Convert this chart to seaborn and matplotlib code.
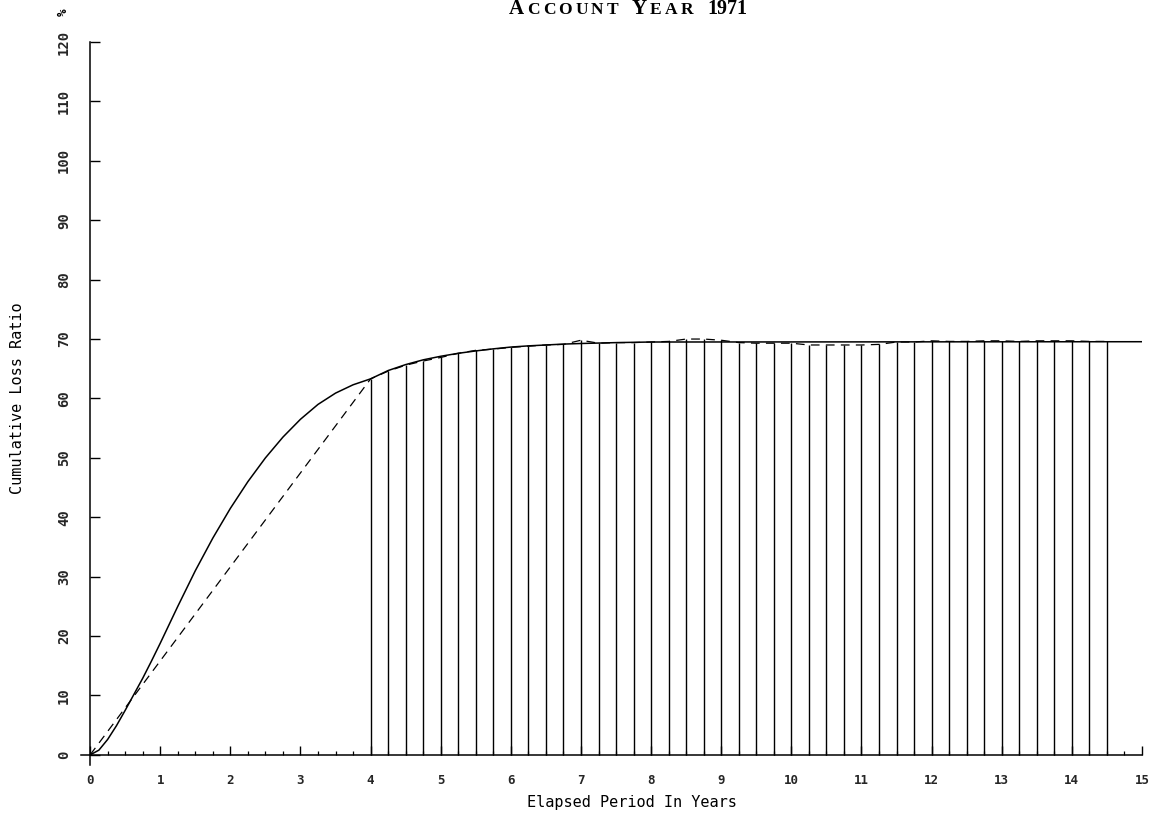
import numpy as np
import pandas as pd
import matplotlib
matplotlib.use("Agg")
import matplotlib.pyplot as plt
import seaborn as sns
from matplotlib.offsetbox import TextArea, HPacker, AnnotationBbox
from matplotlib.ticker import MultipleLocator

# Fitted development curve (cumulative loss ratio, %)
fit_years = [0.0, 0.125, 0.25, 0.375, 0.5, 0.625, 0.75, 0.875, 1.0, 1.25, 1.5, 1.75,
             2.0, 2.25, 2.5, 2.75, 3.0, 3.25, 3.5, 3.75, 4.0, 4.25, 4.5, 4.75,
             5.0, 5.25, 5.5, 5.75, 6.0, 6.25, 6.5, 6.75, 7.0, 7.5, 8.0, 15.0]
fit_ratio = [0.0, 0.8, 2.6, 4.9, 7.5, 10.2, 12.9, 15.8, 18.8, 25.0, 31.0, 36.5,
             41.5, 46.0, 50.0, 53.5, 56.5, 59.0, 60.9, 62.3, 63.3, 64.7, 65.7, 66.5,
             67.1, 67.6, 68.0, 68.35, 68.65, 68.85, 69.0, 69.15, 69.25, 69.4, 69.5, 69.55]

# Observed cumulative loss ratio by quarter
obs_years = [4.0, 4.25, 4.5, 4.75, 5.0, 5.25, 5.5, 5.75, 6.0, 6.25, 6.5, 6.75,
             7.0, 7.25, 7.5, 7.75, 8.0, 8.25, 8.5, 8.75, 9.0, 9.25, 9.5, 9.75,
             10.0, 10.25, 10.5, 10.75, 11.0, 11.25, 11.5, 11.75, 12.0, 12.25,
             12.5, 12.75, 13.0, 13.25, 13.5, 13.75, 14.0, 14.25, 14.5]
obs_ratio = [63.3, 64.6, 65.6, 66.3, 66.9, 67.6, 68.1, 68.3, 68.6, 68.8, 69.0, 69.1,
             69.8, 69.3, 69.4, 69.4, 69.5, 69.6, 70.0, 70.0, 69.8, 69.4, 69.3, 69.3,
             69.3, 69.0, 69.0, 69.0, 69.0, 69.1, 69.5, 69.5, 69.7, 69.6,
             69.6, 69.7, 69.7, 69.6, 69.7, 69.7, 69.7, 69.6, 69.6]

# Dashed path starts at the origin, then follows the observations
path_years = [0.0] + obs_years
path_ratio = [0.0] + obs_ratio

x_ticks = list(range(0, 16))
y_ticks = list(range(0, 121, 10))

sns.set_theme(style="white")
plt.rcParams["font.family"] = ["DejaVu Sans Mono", "DejaVu Sans"]

W, H = 1153, 816
fig = plt.figure(figsize=(W / 100, H / 100), dpi=100)
ax = fig.add_axes([81 / W, 1 - 765 / H, (1142 - 81) / W, (765 - 42) / H])
ax.set_facecolor("white")

fit_df = pd.DataFrame({"year": fit_years, "ratio": fit_ratio})
path_df = pd.DataFrame({"year": path_years, "ratio": path_ratio})

# stems for each quarterly observation
ax.vlines(obs_years, 0, obs_ratio, color="black", linewidth=1.0, zorder=2)

sns.lineplot(data=fit_df, x="year", y="ratio", ax=ax, color="black",
             linewidth=1.1, estimator=None, sort=False, zorder=3)
sns.lineplot(data=path_df, x="year", y="ratio", ax=ax, color="black",
             linewidth=0.9, estimator=None, sort=False, zorder=3,
             linestyle=(0, (7, 5)))

ax.set_xlim(-0.13, 15.0)
ax.set_ylim(-1.7, 120)

for side in ("top", "right"):
    ax.spines[side].set_visible(False)
for side in ("left", "bottom"):
    ax.spines[side].set_position(("data", 0))
    ax.spines[side].set_color("black")
    ax.spines[side].set_linewidth(1.1)

ax.set_xticks(x_ticks)
ax.set_xticklabels([str(v) for v in x_ticks])
ax.xaxis.set_minor_locator(MultipleLocator(0.25))
ax.set_yticks(y_ticks)
ax.set_yticklabels([str(v) for v in y_ticks])

ax.tick_params(axis="x", which="major", direction="in", length=6.5, width=1.0,
               color="black", pad=18.7, labelsize=9, bottom=True)
ax.tick_params(axis="x", which="minor", direction="in", length=3, width=0.9,
               color="black", bottom=True)
ax.tick_params(axis="y", which="major", direction="in", length=7, width=1.0,
               color="black", pad=18.7, labelsize=10, labelrotation=90, left=True)
plt.setp(ax.get_xticklabels(), fontweight="bold", va="center", ha="center")
plt.setp(ax.get_yticklabels(), fontweight="bold", va="center", ha="center")

ax.set_xlabel("")
ax.set_ylabel("")
ax.grid(False)

fig.text(632 / W, 1 - 802 / H, "Elapsed Period In Years", ha="center", va="center",
         fontsize=11, color="black")
fig.text(18 / W, 1 - 398 / H, "Cumulative Loss Ratio", ha="center", va="center",
         rotation=90, fontsize=11, color="black")
fig.text(63 / W, 1 - 12 / H, "%", ha="center", va="center", rotation=90,
         fontsize=9, fontweight="bold", color="black")

# Small-caps title built from letter pieces
big = dict(family="Liberation Serif", size=15, color="black", weight="bold")
small = dict(family="Liberation Serif", size=12.5, color="black", weight="bold")


def word(first, rest, spacing=2.2):
    parts = [TextArea(first, textprops=big)]
    parts += [TextArea(ch, textprops=small) for ch in rest]
    return HPacker(children=parts, align="baseline", pad=0, sep=spacing)


title = HPacker(children=[word("A", "CCOUNT"), word("Y", "EAR"),
                          TextArea("1971", textprops=dict(big, size=14.5))],
                align="baseline", pad=0, sep=10)
fig.add_artist(AnnotationBbox(title, (628 / W, 1 - 9 / H), xycoords="figure fraction",
                              frameon=False, box_alignment=(0.5, 0.5), pad=0))

fig.savefig("out.png", dpi=100, facecolor="white")
